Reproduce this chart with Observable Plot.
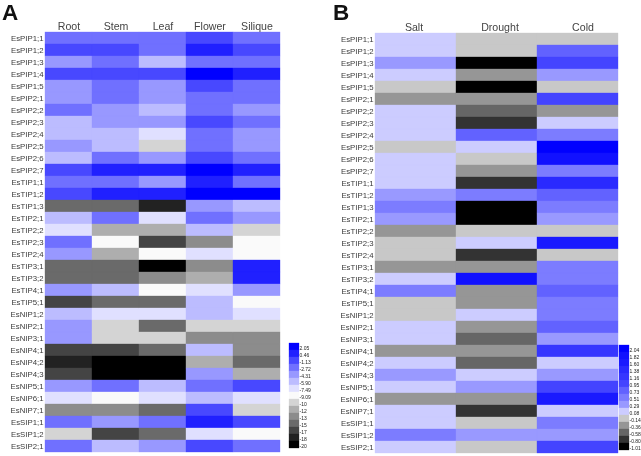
<!DOCTYPE html>
<html><head><meta charset="utf-8">
<script src="https://cdn.jsdelivr.net/npm/d3@7"></script>
<script src="https://cdn.jsdelivr.net/npm/@observablehq/plot@0.6"></script>
<style>
html,body{margin:0;padding:0;background:#fff;overflow:hidden}
#root{position:relative;width:641px;height:456px;font-family:"Liberation Sans",Arial,sans-serif;filter:blur(0.35px)}
#root svg{position:absolute;background:transparent;overflow:visible}
.letter{position:absolute;font-weight:bold;font-size:22.5px;line-height:25px;color:#111}
</style></head><body><div id="root"></div>
<script>
const genes = ["EsPIP1;1","EsPIP1;2","EsPIP1;3","EsPIP1;4","EsPIP1;5","EsPIP2;1","EsPIP2;2","EsPIP2;3","EsPIP2;4","EsPIP2;5","EsPIP2;6","EsPIP2;7","EsTIP1;1","EsTIP1;2","EsTIP1;3","EsTIP2;1","EsTIP2;2","EsTIP2;3","EsTIP2;4","EsTIP3;1","EsTIP3;2","EsTIP4;1","EsTIP5;1","EsNIP1;2","EsNIP2;1","EsNIP3;1","EsNIP4;1","EsNIP4;2","EsNIP4;3","EsNIP5;1","EsNIP6;1","EsNIP7;1","EsSIP1;1","EsSIP1;2","EsSIP2;1"];
const tissues = ["Root","Stem","Leaf","Flower","Silique"];
const stresses = ["Salt","Drought","Cold"];

const levelsA = [2.05,0.46,-1.13,-2.72,-4.31,-5.9,-7.49,-9.09,-10,-12,-13,-15,-17,-18,-20];
const labelsA = ["2.05","0.46","-1.13","-2.72","-4.31","-5.90","-7.49","-9.09","-10","-12","-13","-15","-17","-18","-20"];
const colorsA = ["#0000ff","#2020ff","#4848ff","#7070ff","#9898ff","#bcbcff","#e0e0ff","#fafafa","#d4d4d4","#aeaeae","#8c8c8c","#6a6a6a","#444444","#222222","#000000"];
const levelsB = [2.04,1.82,1.6,1.38,1.16,0.95,0.73,0.51,0.29,0.08,-0.14,-0.36,-0.58,-0.8,-1.01];
const labelsB = ["2.04","1.82","1.60","1.38","1.16","0.95","0.73","0.51","0.29","0.08","-0.14","-0.36","-0.58","-0.80","-1.01"];
const colorsB = ["#0000ff","#1111ff","#1a1aff","#2a2aff","#3636ff","#4444ff","#6262ff","#7c7cff","#9999ff","#ccccff","#c8c8c8","#969696","#666666","#333333","#000000"];

const root_ = [-2.72,-1.13,-4.31,-1.13,-4.31,-4.31,-2.72,-5.9,-5.9,-4.31,-5.9,-1.13,-2.72,-1.13,-15,-5.9,-7.49,-2.72,-4.31,-15,-15,-4.31,-17,-5.9,-4.31,-4.31,-17,-18,-17,-4.31,-7.49,-13,-2.72,-10,-2.72];
const stem = [-2.72,-1.13,-2.72,-1.13,-2.72,-2.72,-4.31,-4.31,-5.9,-5.9,-2.72,0.46,-2.72,0.46,-15,-2.72,-12,-9.09,-12,-15,-15,-5.9,-15,-7.49,-10,-10,-17,-20,-20,-2.72,-9.09,-13,-4.31,-17,-5.9];
const leaf = [-2.72,-2.72,-5.9,-1.13,-4.31,-4.31,-5.9,-4.31,-7.49,-10,-4.31,0.46,-4.31,0.46,-18,-7.49,-12,-17,-9.09,-20,-13,-9.09,-15,-7.49,-15,-10,-15,-20,-20,-5.9,-7.49,-15,-2.72,-15,-4.31];
const flower = [-1.13,0.46,-2.72,2.05,-1.13,-2.72,-2.72,-1.13,-2.72,-2.72,-1.13,2.05,0.46,2.05,-4.31,-2.72,-5.9,-13,-7.49,-13,-12,-7.49,-5.9,-5.9,-10,-13,-5.9,-12,-4.31,-2.72,-5.9,-1.13,0.46,-7.49,-1.13];
const silique = [-2.72,-1.13,-2.72,0.46,-2.72,-2.72,-4.31,-2.72,-4.31,-4.31,-2.72,0.46,-2.72,2.05,-5.9,-4.31,-10,-9.09,-9.09,0.46,0.46,-4.31,-9.09,-7.49,-10,-13,-13,-15,-12,-1.13,-7.49,-10,-1.13,-9.09,-2.72];

const salt = [0.08,0.08,0.29,0.08,-0.14,-0.36,0.08,0.08,0.08,-0.14,0.08,0.08,0.08,0.29,0.51,0.29,-0.36,-0.14,-0.14,-0.36,0.08,0.51,-0.14,-0.14,0.08,0.08,-0.36,0.08,0.29,0.08,-0.36,0.08,0.08,0.51,0.08];
const drought = [-0.14,-0.14,-1.01,-0.36,-1.01,-0.36,-0.58,-0.8,0.73,0.08,-0.14,-0.36,-0.8,0.51,-1.01,-1.01,-0.14,0.08,-0.8,-0.36,1.82,-0.36,-0.36,0.08,-0.36,-0.58,-0.36,-0.58,0.08,0.29,-0.36,-0.8,-0.14,0.29,-0.14];
const cold = [-0.14,0.73,0.95,0.29,-0.14,0.95,-0.36,0.08,0.51,2.04,1.82,0.51,1.38,0.73,0.51,0.29,-0.14,1.6,-0.14,0.51,0.51,0.73,0.51,0.51,0.73,0.29,1.16,0.08,0.29,0.95,1.6,0.08,0.51,0.29,0.95];

const seriesA = [root_,stem,leaf,flower,silique];
const seriesB = [salt,drought,cold];
const long = (names, series) => names.flatMap((c,j)=>genes.map((g,i)=>({gene:g,col:c,value:series[j][i]})));
const host = document.getElementById("root");
function place(svg,left,top){svg.style.left=left+"px";svg.style.top=top+"px";host.appendChild(svg);}

function heat(names, series, levels, colors, width, ml, mr, mt, mb, headerAxes){
  return Plot.plot({
    width, height:456, marginLeft:ml, marginRight:mr, marginTop:mt, marginBottom:mb,
    style:{background:"transparent",fontFamily:'"Liberation Sans",Arial,sans-serif'},
    x:{type:"band",domain:names,padding:0,axis:null},
    y:{type:"band",domain:genes,padding:0,axis:null},
    color:{type:"ordinal",domain:levels,range:colors},
    marks:[
      Plot.cell(long(names,series),{x:"col",y:"gene",fill:"value",stroke:"value",strokeWidth:0.35}),
      Plot.axisY({anchor:"left",tickSize:0,tickPadding:1,fontSize:7.8,color:"#3a3a3a",label:null}),
      ...headerAxes
    ]
  });
}
function legend(labels, levels, colors, left, top, h){
  const svg = Plot.plot({
    width:34, height:h, marginLeft:0, marginRight:24, marginTop:0, marginBottom:0,
    style:{background:"transparent",fontFamily:'"Liberation Sans",Arial,sans-serif'},
    x:{axis:null},
    y:{type:"band",domain:levels,padding:0,axis:null},
    color:{type:"ordinal",domain:levels,range:colors},
    marks:[
      Plot.cell(levels,{y:d=>d,fill:d=>d,stroke:d=>d,strokeWidth:0.3}),
      Plot.axisY({anchor:"right",tickSize:0,tickPadding:0,dy:1.5,fontSize:5,color:"#222",label:null,
        tickFormat:d=>labels[levels.indexOf(d)]})
    ]
  });
  place(svg,left,top);
}
const hdr = {anchor:"top",tickSize:0,tickPadding:2,fontSize:10.6,color:"#444",label:null};
place(heat(tissues,seriesA,levelsA,colorsA,300,44,20,31,3,[Plot.axisX(hdr)]),0,0);
place(heat(stresses,seriesB,levelsB,colorsB,330,64,21,32,2,[
  Plot.axisX({...hdr,ticks:["Salt"],dx:-2}),
  Plot.axisX({...hdr,ticks:["Drought"],dx:3}),
  Plot.axisX({...hdr,ticks:["Cold"],dx:5})
]),310,0);
legend(labelsA,levelsA,colorsA,289,338,115);
legend(labelsB,levelsB,colorsB,619,340,114);
for(const [t,l] of [["A",2],["B",333]]){
  const d=document.createElement("div");d.className="letter";d.textContent=t;d.style.left=l+"px";d.style.top="0px";host.appendChild(d);
}
</script></body></html>
